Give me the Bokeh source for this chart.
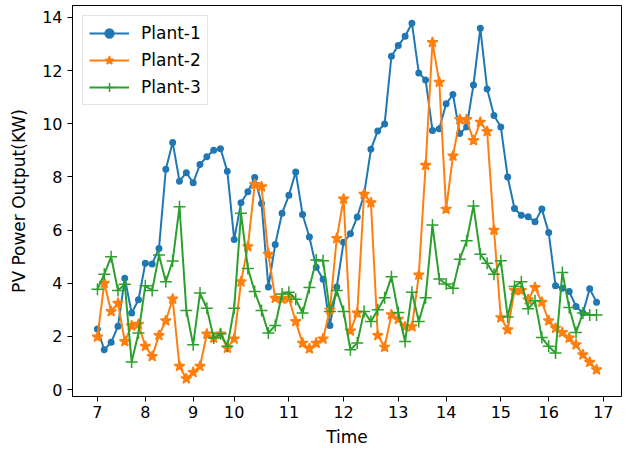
from bokeh.plotting import figure
from bokeh.models import Range1d, FixedTicker
from bokeh.embed import file_html
from bokeh.resources import INLINE

# Sample values (kW) at successive sampling instants
plant1 = [2.28, 1.50, 1.78, 2.38, 4.19, 2.88, 3.38, 4.75, 4.73, 5.31,
          8.29, 9.30, 7.84, 8.16, 7.78, 8.47, 8.76, 9.00, 9.06, 8.21,
          5.65, 7.03, 7.44, 7.98, 7.00, 3.86, 5.46, 6.63, 7.31, 8.19,
          6.59, 5.74, 4.60, 4.15, 2.41, 3.86, 5.54, 5.86, 6.49, 7.34,
          9.04, 9.73, 9.99, 12.54, 12.94, 13.29, 13.78, 11.91, 11.65, 9.75,
          9.81, 10.75, 11.10, 9.63, 9.88, 11.46, 13.59, 11.31, 10.31, 9.88,
          8.00, 6.81, 6.56, 6.50, 6.31, 6.79, 5.91, 3.91, 3.81, 3.69,
          3.13, 2.88, 3.79, 3.29]
plant2 = [1.98, 4.00, 2.94, 3.25, 1.81, 2.40, 2.46, 1.63, 1.25, 2.04,
          2.59, 3.41, 0.88, 0.41, 0.65, 0.88, 2.09, 1.94, 2.09, 1.56,
          1.91, 4.06, 5.38, 7.72, 7.63, 5.09, 3.44, 3.40, 3.44, 2.56,
          1.75, 1.54, 1.75, 1.91, 3.00, 5.69, 7.17, 2.21, 2.88, 7.35,
          7.03, 2.04, 1.60, 2.82, 2.65, 2.37, 2.37, 4.31, 8.44, 13.06,
          11.56, 6.79, 8.79, 10.16, 10.16, 9.37, 10.06, 9.71, 6.00, 2.71,
          2.25, 3.73, 3.73, 3.38, 3.84, 3.29, 2.59, 2.31, 2.15, 1.94,
          1.69, 1.31, 1.03, 0.75]
plant3 = [3.78, 4.34, 5.00, 3.73, 3.96, 1.04, 2.13, 3.91, 3.73, 5.06,
          4.06, 4.84, 6.88, 2.98, 1.69, 3.63, 3.06, 1.94, 2.10, 1.63,
          3.06, 6.63, 4.56, 3.69, 2.98, 2.13, 2.41, 3.60, 3.66, 3.40,
          2.88, 3.84, 4.88, 4.85, 2.94, 3.73, 2.94, 1.50, 1.75, 2.94,
          2.56, 3.00, 3.46, 4.25, 2.90, 1.81, 3.66, 2.56, 3.46, 6.19,
          4.16, 3.97, 3.81, 4.90, 5.60, 6.91, 5.09, 4.75, 4.34, 4.85,
          2.73, 3.88, 4.06, 3.04, 3.34, 1.96, 1.63, 1.38, 4.41, 3.09,
          2.15, 2.88, 2.81, 2.81]

# hour tick labels and the sample index at which each hour falls
hour_labels = [7, 8, 9, 10, 11, 12, 13, 14, 15, 16, 17]
hour_index = [0, 7, 14, 20, 28, 36, 44, 51, 59, 66, 74]

series_names = ["Plant-1", "Plant-2", "Plant-3"]
colors = ["#1f77b4", "#ff7f0e", "#2ca02c"]
markers = ["circle", "star", "cross"]
msizes = [5.5, 11, 12]

idx = list(range(len(plant1)))
n = len(idx) - 1
xpad = 0.05 * n
allv = plant1 + plant2 + plant3
ymin, ymax = min(allv), max(allv)
ypad = 0.05 * (ymax - ymin)

p = figure(width=625, height=449, output_backend="svg", toolbar_location=None,
           x_range=Range1d(-xpad, n + xpad),
           y_range=Range1d(ymin - ypad, ymax + ypad),
           min_border_left=72, min_border_right=4, min_border_top=5,
           min_border_bottom=46)

for vals, name, c, m, s in zip([plant1, plant2, plant3], series_names, colors, markers, msizes):
    p.line(idx, vals, line_color=c, line_width=2, legend_label=name)
    p.scatter(idx, vals, marker=m, size=s, fill_color=c, line_color=c,
              line_width=1.5, legend_label=name)

p.xgrid.visible = False
p.ygrid.visible = False
p.outline_line_color = "black"
p.outline_line_width = 1
p.outline_line_alpha = 1

p.xaxis.ticker = FixedTicker(ticks=hour_index)
p.xaxis.major_label_overrides = {i: str(h) for i, h in zip(hour_index, hour_labels)}
p.yaxis.ticker = FixedTicker(ticks=[0, 2, 4, 6, 8, 10, 12, 14])

for ax in [p.xaxis[0], p.yaxis[0]]:
    ax.axis_line_color = "black"
    ax.major_tick_line_color = "black"
    ax.minor_tick_line_color = None
    ax.major_tick_in = 0
    ax.major_tick_out = 5
    ax.major_label_text_font = "DejaVu Sans"
    ax.major_label_text_font_size = "16px"
    ax.major_label_text_color = "black"
    ax.axis_label_text_font = "DejaVu Sans"
    ax.axis_label_text_font_size = "17px"
    ax.axis_label_text_font_style = "normal"
    ax.axis_label_text_color = "black"

p.xaxis.axis_label = "Time"
p.yaxis.axis_label = "PV Power Output(KW)"
p.xaxis.major_label_standoff = 4
p.xaxis.axis_label_standoff = 6
p.yaxis.major_label_standoff = 5
p.yaxis.axis_label_standoff = 10

lg = p.legend[0]
lg.location = "top_left"
lg.margin = 10
lg.padding = 6
lg.spacing = 5
lg.glyph_width = 40
lg.glyph_height = 22
lg.label_height = 22
lg.label_standoff = 12
lg.label_text_font = "DejaVu Sans"
lg.label_text_font_size = "17px"
lg.label_text_color = "black"
lg.border_line_color = "#cccccc"
lg.border_line_width = 1
lg.background_fill_alpha = 0.8

open("out.html", "w").write(file_html(p, INLINE))
